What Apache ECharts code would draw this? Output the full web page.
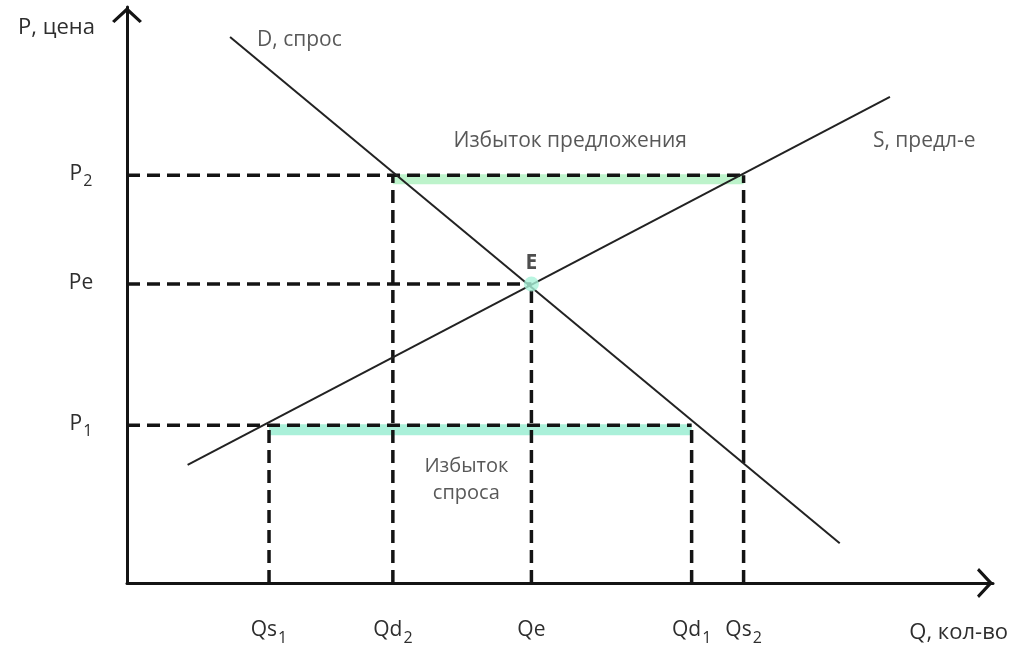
<!DOCTYPE html>
<html><head><meta charset="utf-8">
<script src="https://cdn.jsdelivr.net/npm/echarts@6/dist/echarts.min.js"></script>
<style>html,body{margin:0;padding:0;background:#fff}#c{width:1023px;height:647px}</style>
</head><body><div id="c"></div>
<script>
// ---- data ----
const qLabels = ['Qs|1', 'Qd|2', 'Qe', 'Qd|1', 'Qs|2'];   // "|" separates a subscript
const qValues = [1.64, 3.07, 4.67, 6.52, 7.12];
const qPriceIndex = [0, 2, 1, 0, 2];          // which price level each quantity belongs to
const pLabels = ['P|1', 'Pe', 'P|2'];
const pValues = [2.74, 5.19, 7.08];
const demandLine = [[1.19, 9.48], [8.23, 0.69]];
const supplyLine = [[0.70, 2.05], [8.81, 8.44]];
const equilibrium = [4.67, 5.19];
const shortageRange = [1.64, 6.52];   // Qs1..Qd1 at P1
const surplusRange = [3.07, 7.12];    // Qd2..Qs2 at P2
const axisNames = ['Q, кол-во', 'P, цена'];
const curveNames = ['D, спрос', 'S, предл-е'];
const surplusText = 'Избыток предложения';
const shortageText = 'Избыток\nспроса';
const eqText = 'E';

// ---- chart ----
const FONT = "'Open Sans', 'Noto Sans', 'DejaVu Sans', sans-serif";
const TXT = '#2e2e2e';
const INK = '#141414';
const arrow = 'path://M15,0 L30,14 L27.6,16 L15,4.4 L2.4,16 L0,14 Z';

function subLabel(s) {
  const parts = s.split('|');
  return parts.length > 1 ? '{m|' + parts[0] + '}{s|' + parts[1] + '}' : '{m|' + s + '}';
}
const richSub = {
  m: { fontFamily: FONT, fontSize: 21, color: TXT, lineHeight: 24, verticalAlign: 'top' },
  s: { fontFamily: FONT, fontSize: 16, color: TXT, lineHeight: 16, verticalAlign: 'top', padding: [10, 0, 0, 1] }
};

const series = [];
const dashStyle = { color: INK, width: 3.5, type: [13, 7], cap: 'butt' };

function guide(data) {
  series.push({ type: 'line', data, symbol: 'none', lineStyle: dashStyle, silent: true, z: 3, animation: false });
}
pValues.forEach((p, pi) => {
  let qMax = 0;
  qValues.forEach((q, qi) => { if (qPriceIndex[qi] === pi) qMax = Math.max(qMax, q); });
  guide([[0, p], [qMax, p]]);
});
qValues.forEach((q, qi) => guide([[q, 0], [q, pValues[qPriceIndex[qi]]]]));

function band(range, price, color, h) {
  series.push({
    type: 'custom', silent: true, z: 2, animation: false,
    data: [[range[0], range[1], price]],
    renderItem(params, api) {
      const a = api.coord([api.value(0), api.value(2)]);
      const b = api.coord([api.value(1), api.value(2)]);
      return { type: 'rect', shape: { x: a[0], y: a[1] - 1, width: b[0] - a[0], height: h }, style: { fill: color } };
    }
  });
}
band(surplusRange, pValues[2], '#bdf3cb', 10);
band(shortageRange, pValues[0], '#aaf0d9', 11);

series.push({
  type: 'line', data: demandLine, symbol: 'none', z: 4, animation: false,
  lineStyle: { color: '#222', width: 2 }
});
series.push({
  type: 'line', data: supplyLine, symbol: 'none', z: 4, animation: false,
  lineStyle: { color: '#222', width: 2 }
});

const labelStyle = { fontFamily: FONT, fontSize: 21, color: TXT };
series.push({
  type: 'scatter', symbolSize: 0, silent: true, z: 6, animation: false,
  data: [
    { value: demandLine[0], label: { show: true, formatter: curveNames[0], position: 'right', distance: 27, offset: [0, 3], ...labelStyle } },
    { value: supplyLine[1], label: { show: true, formatter: curveNames[1], position: 'bottom', align: 'left', distance: 5, offset: [-17, 29], ...labelStyle } },
    { value: [(surplusRange[0] + surplusRange[1]) / 2, pValues[2]], label: { show: true, formatter: surplusText, position: 'top', distance: 24, offset: [2, 0], ...labelStyle } },
    { value: [(shortageRange[0] + shortageRange[1]) / 2, pValues[0]], label: { show: true, formatter: shortageText, position: 'bottom', distance: 28, offset: [-14, 0], lineHeight: 27, ...labelStyle, fontSize: 20 } }
  ]
});
series.push({
  type: 'scatter', data: [equilibrium], symbol: 'circle', symbolSize: 15, z: 7, animation: false, silent: true,
  itemStyle: { color: '#a9f3da' },
  label: { show: true, formatter: eqText, position: 'top', distance: 3, fontFamily: FONT, fontSize: 21, fontWeight: 'bold', color: '#222' }
});

const axisLine = { show: true, symbol: ['none', arrow], symbolSize: [30, 16], symbolOffset: [0, -8], lineStyle: { color: INK, width: 3 } };

const option = {
  backgroundColor: '#fff',
  animation: false,
  grid: { left: 127, right: 1023 - 993, top: 7, bottom: 647 - 583, containLabel: false },
  xAxis: {
    type: 'value', min: 0, max: 10,
    axisLine,
    axisTick: { show: false },
    splitLine: { show: false },
    axisLabel: {
      customValues: qValues, margin: 37, rich: richSub,
      formatter: v => { const i = qValues.findIndex(q => Math.abs(q - v) < 1e-6); return i >= 0 ? subLabel(qLabels[i]) : ''; }
    },
    name: axisNames[0], nameLocation: 'end', nameGap: 15,
    nameTextStyle: { fontFamily: FONT, fontSize: 22, color: TXT, align: 'right', verticalAlign: 'top', padding: [39, 0, 0, 0] }
  },
  yAxis: {
    type: 'value', min: 0, max: 10,
    axisLine,
    axisTick: { show: false },
    splitLine: { show: false },
    axisLabel: {
      customValues: pValues, margin: 46, align: 'center', rich: richSub,
      formatter: v => { const i = pValues.findIndex(p => Math.abs(p - v) < 1e-6); return i >= 0 ? subLabel(pLabels[i]) : ''; }
    },
    name: axisNames[1], nameLocation: 'end', nameGap: -21,
    nameTextStyle: { fontFamily: FONT, fontSize: 22, color: TXT, align: 'right', verticalAlign: 'middle', padding: [0, 32, 0, 0] }
  },
  series
};

const chart = echarts.init(document.getElementById('c'), null, { renderer: 'canvas' });
chart.setOption(option);
</script>
</body></html>
